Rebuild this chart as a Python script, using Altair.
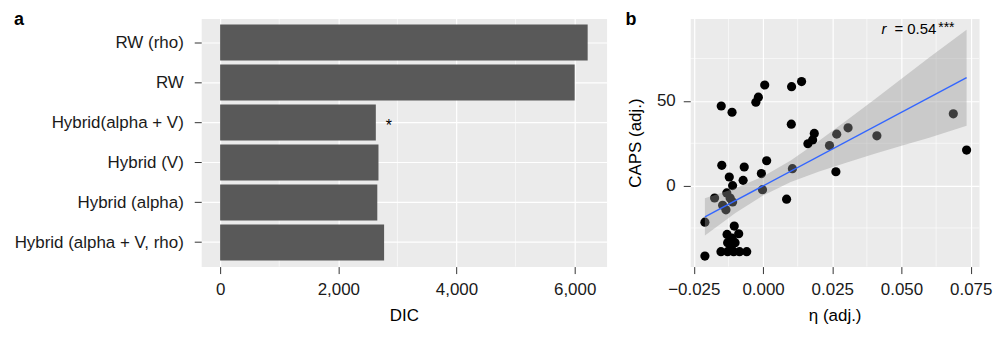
import altair as alt
import pandas as pd

# ---------------- Panel a data ----------------
models = ["RW (rho)", "RW", "Hybrid(alpha + V)", "Hybrid (V)", "Hybrid (alpha)",
          "Hybrid (alpha + V, rho)"]
dic = [6220, 6000, 2635, 2680, 2660, 2775]
star_model = ["Hybrid(alpha + V)"]
star_value = [2635]
star_label = ["*"]
dic_major = [0, 2000, 4000, 6000]
dic_minor = [1000, 3000, 5000]

# ---------------- Panel b data ----------------
eta = [-0.0210, -0.0210, -0.0175, -0.0146, -0.0134, -0.0151, -0.0112, -0.0149,
       -0.0122, -0.0110, -0.0131, -0.0119, -0.0110, -0.0068, -0.0072, -0.0026,
       -0.0017, 0.0006, -0.0006, -0.0002, 0.0013, 0.0085, 0.0102, 0.0106,
       0.0103, 0.0139, 0.0162, 0.0179, 0.0185, 0.0240, 0.0266, 0.0263,
       0.0307, 0.0411, 0.0687, 0.0735,
       -0.0104, -0.0130, -0.0088, -0.0128, -0.0101, -0.0152, -0.0128, -0.0106,
       -0.0085, -0.0059, -0.0116, -0.0112]
caps = [-41.6, -21.6, -7.3, -11.6, -14.3, 47.0, 43.3, 12.0,
        5.1, 0.0, -4.3, -7.3, -9.6, 11.0, 3.1, 49.2,
        52.2, 59.4, 7.1, -2.4, 14.7, -8.0, 36.3, 10.0,
        58.4, 61.4, 24.7, 27.0, 30.8, 23.7, 30.4, 8.2,
        34.1, 29.4, 42.4, 21.0,
        -23.9, -28.8, -28.4, -33.7, -33.7, -39.0, -39.0, -39.0,
        -39.0, -39.0, -36.6, -31.0]
fit_eta = [-0.021, 0.0735]
fit_caps = [-18.4, 63.7]
band_eta = [-0.021, -0.010, 0.000, 0.010, 0.020, 0.030, 0.040, 0.050, 0.060, 0.0735]
band_lo = [-29.4, -16.1, -5.8, 2.1, 8.2, 13.5, 18.6, 23.5, 28.3, 35.4]
band_hi = [-7.4, -1.5, 5.4, 14.9, 26.2, 38.3, 50.6, 63.1, 75.7, 92.0]
eta_major = [-0.025, 0.0, 0.025, 0.05, 0.075]
eta_minor = [-0.0125, 0.0125, 0.0375, 0.0625]
caps_major = [0, 50]
caps_minor = [-25, 25, 75]

FONT = "Liberation Sans"
BG = "#EBEBEB"
FS = 17


def text_layer(txt, x, y, baseline="alphabetic", **kw):
    return alt.Chart(pd.DataFrame({"t": [txt]})).mark_text(
        font=FONT, align="left", baseline=baseline, color="black", **kw
    ).encode(x=alt.value(x), y=alt.value(y), text="t:N")


# ---------------- Panel a ----------------
df_a = pd.DataFrame({"model": models, "dic": dic})
df_star = pd.DataFrame({"model": star_model, "dic": star_value, "label": star_label})
df_dminor = pd.DataFrame({"v": dic_minor})

xa_scale = alt.Scale(domain=[-320, 6540], nice=False, zero=False)
ya_scale = alt.Scale(paddingInner=0.1, paddingOuter=0.15)

minor_a = alt.Chart(df_dminor).mark_rule(color="white", strokeWidth=0.6).encode(
    x=alt.X("v:Q", scale=xa_scale)
)
bars = alt.Chart(df_a).mark_bar(color="#595959").encode(
    x=alt.X("dic:Q", scale=xa_scale,
            axis=alt.Axis(values=dic_major, format=",d", title="DIC", grid=True,
                          labelPadding=8, titlePadding=10)),
    y=alt.Y("model:N", sort=models, scale=ya_scale,
            axis=alt.Axis(title=None, grid=True, bandPosition=0.5, labelPadding=11)),
)
star = alt.Chart(df_star).mark_text(
    font=FONT, fontSize=16, dx=13, dy=3, align="center", baseline="middle", color="black"
).encode(
    x=alt.X("dic:Q", scale=xa_scale),
    y=alt.Y("model:N", sort=models, scale=ya_scale),
    text="label:N",
)
label_a = text_layer("a", -188, -8, baseline="top", fontSize=18, fontWeight="bold")
panel_a = alt.layer(minor_a, bars, star, label_a).properties(width=407, height=249)

# ---------------- Panel b ----------------
df_pts = pd.DataFrame({"eta": eta, "caps": caps})
df_fit = pd.DataFrame({"eta": fit_eta, "caps": fit_caps})
df_band = pd.DataFrame({"eta": band_eta, "lo": band_lo, "hi": band_hi})
df_eminor = pd.DataFrame({"v": eta_minor})
df_cminor = pd.DataFrame({"v": caps_minor})

xb_scale = alt.Scale(domain=[-0.0263, 0.078], nice=False, zero=False)
yb_scale = alt.Scale(domain=[-47.8, 98.6], nice=False, zero=False)

minor_bx = alt.Chart(df_eminor).mark_rule(color="white", strokeWidth=0.6).encode(
    x=alt.X("v:Q", scale=xb_scale)
)
minor_by = alt.Chart(df_cminor).mark_rule(color="white", strokeWidth=0.6).encode(
    y=alt.Y("v:Q", scale=yb_scale)
)
pts = alt.Chart(df_pts).mark_circle(size=85, color="black", opacity=1).encode(
    x=alt.X("eta:Q", scale=xb_scale,
            axis=alt.Axis(values=eta_major, format=".3f", title="η (adj.)", grid=True,
                          labelPadding=8, titlePadding=10)),
    y=alt.Y("caps:Q", scale=yb_scale,
            axis=alt.Axis(values=caps_major, format="d", title="CAPS (adj.)", grid=True,
                          labelPadding=8, titlePadding=12)),
)
band = alt.Chart(df_band).mark_area(color="#999999", opacity=0.4).encode(
    x=alt.X("eta:Q", scale=xb_scale),
    y=alt.Y("lo:Q", scale=yb_scale),
    y2="hi:Q",
)
fit = alt.Chart(df_fit).mark_line(color="#3366FF", strokeWidth=1.4).encode(
    x=alt.X("eta:Q", scale=xb_scale),
    y=alt.Y("caps:Q", scale=yb_scale),
)
r_txt = text_layer("r", 192, 15.7, fontSize=15, fontStyle="italic")
eq_txt = text_layer("= 0.54", 205, 15.7, fontSize=15)
sig_txt = text_layer("***", 249, 13, fontSize=14)
label_b = text_layer("b", -65, -8, baseline="top", fontSize=18, fontWeight="bold")

panel_b = alt.layer(minor_bx, minor_by, pts, band, fit, r_txt, eq_txt, sig_txt,
                    label_b).properties(width=290, height=249)

chart = alt.hconcat(panel_a, panel_b, spacing=17).properties(
    padding={"left": 5, "top": 1, "right": 0, "bottom": 0}
).configure_view(
    fill=BG, stroke="transparent"
).configure_axis(
    labelFont=FONT, labelFontSize=FS, labelColor="#1a1a1a",
    titleFont=FONT, titleFontSize=FS, titleFontWeight="normal", titleColor="black",
    gridColor="white", gridWidth=1.2, domain=False,
    tickColor="#333333", tickSize=7, tickWidth=1,
)

chart.save("out.html", embed_options={"renderer": "svg", "actions": False})
